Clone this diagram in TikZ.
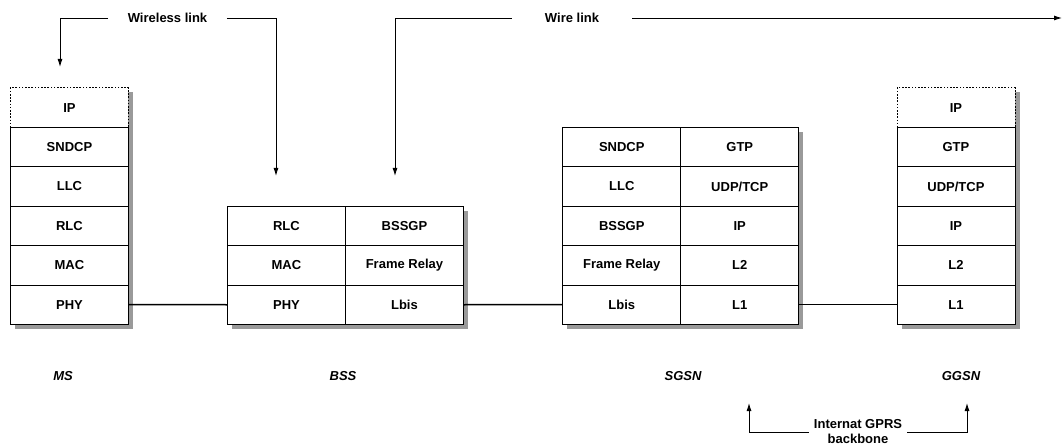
\documentclass[tikz,border=0pt]{standalone}
\usepackage{fontspec}
\setmainfont{Liberation Sans}
\usetikzlibrary{arrows.meta}
\definecolor{shade}{HTML}{9A9A9A}
\tikzset{
  cell/.style={draw, fill=white, line width=0.9pt, minimum width=118pt,
    minimum height=39.4pt, inner sep=0pt, anchor=north west,
    font=\fontsize{13}{15}\selectfont\bfseries},
  ipcell/.style={cell, dash pattern=on 1.6pt off 1.6pt, line width=0.8pt},
  shadowbox/.style={fill=shade},
  link/.style={line width=1.5pt},
  pointer/.style={line width=0.9pt, -{Latex[length=8pt,width=5pt]}},
  caption/.style={font=\fontsize{13}{15}\selectfont\bfseries, inner ysep=0pt},
  sysname/.style={font=\fontsize{13}{15}\selectfont\bfseries\itshape},
}
\begin{document}
\begin{tikzpicture}[x=1pt,y=-1pt]
\useasboundingbox (0,0) rectangle (1064,446);

% drop shadows of the protocol stacks
\fill[shadowbox] (15,92.5) rectangle (133,329);
\fill[shadowbox] (232,210.8) rectangle (468,329);
\fill[shadowbox] (567.3,132) rectangle (803.3,329);
\fill[shadowbox] (901.5,92.5) rectangle (1019.5,329);

% MS stack
\node[ipcell] (ms0) at (10,87.5) {IP};
\foreach \t [count=\i] in {SNDCP,LLC,RLC,MAC,PHY}
  \node[cell] (ms\i) at (10,{87.5+\i*39.4}) {\t};

% BSS stack
\foreach \t [count=\i] in {RLC,MAC,PHY}
  \node[cell] (bssa\i) at (227,{205.8+(\i-1)*39.4}) {\t};
\foreach \t [count=\i] in {BSSGP,Frame Relay,Lbis}
  \node[cell] (bssb\i) at (345,{205.8+(\i-1)*39.4}) {\t};

% SGSN stack
\foreach \t [count=\i] in {SNDCP,LLC,BSSGP,Frame Relay,Lbis}
  \node[cell] (sgsna\i) at (562.3,{87.5+\i*39.4}) {\t};
\foreach \t [count=\i] in {GTP,UDP/TCP,IP,L2,L1}
  \node[cell] (sgsnb\i) at (680.3,{87.5+\i*39.4}) {\t};

% GGSN stack
\node[ipcell] (gg0) at (896.5,87.5) {IP};
\foreach \t [count=\i] in {GTP,UDP/TCP,IP,L2,L1}
  \node[cell] (gg\i) at (896.5,{87.5+\i*39.4}) {\t};

% physical links between the stacks
\draw[link] (ms5.east) -- (bssa3.west);
\draw[link] (bssb3.east) -- (sgsna5.west);
\draw[link] (sgsnb5.east) -- (gg5.west);

% wireless link
\node[caption, inner xsep=19.5pt] (wl) at (167.5,18) {Wireless link};
\coordinate (msin) at (60,67);
\coordinate (bssin) at (276,176);
\draw[pointer] (wl.west) -| (msin);
\draw[pointer] (wl.east) -| (bssin);

% wire link
\node[caption, inner xsep=33pt] (wr) at (572,18) {Wire link};
\coordinate (bssin2) at (395,176);
\coordinate (wireend) at (1062,18);
\draw[pointer] (wr.west) -| (bssin2);
\draw[pointer] (wr.east) -- (wireend);

% system names
\node[sysname] (nms) at (63,376) {MS};
\node[sysname] (nbss) at (343,376) {BSS};
\node[sysname] (nsgsn) at (683,376) {SGSN};
\node[sysname] (nggsn) at (961,376) {GGSN};

% GPRS backbone
\node[caption, align=center, inner xsep=5pt] (bb) at (858,432) {Internat GPRS\\backbone};
\coordinate (sgup) at (749,403);
\coordinate (ggup) at (967,403);
\draw[pointer] (bb.west) -| (sgup);
\draw[pointer] (bb.east) -| (ggup);
\end{tikzpicture}
\end{document}
